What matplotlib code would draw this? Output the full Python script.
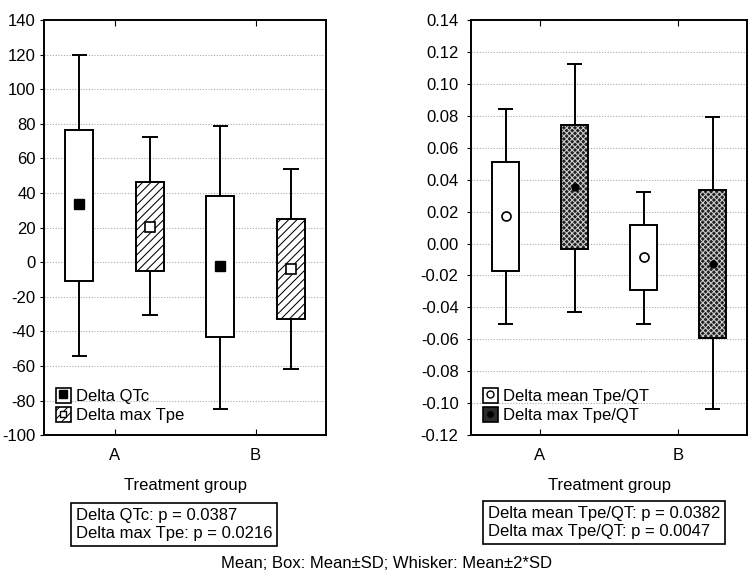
import matplotlib
matplotlib.use("Agg")
import matplotlib.pyplot as plt
import numpy as np
from matplotlib.patches import Patch
from matplotlib.lines import Line2D

plt.rcParams['font.family'] = ['Liberation Sans', 'DejaVu Sans']
plt.rcParams['axes.unicode_minus'] = False
plt.rcParams['hatch.linewidth'] = 0.75

groups = ["A", "B"]

# left panel: QTc and max Tpe (mean, mean-SD, mean+SD, mean-2SD, mean+2SD)
qtc_mean = [33.5, -2.5]
qtc_box_lo = [-10.8, -43.5]
qtc_box_hi = [76.6, 38.0]
qtc_wh_lo = [-54.2, -84.8]
qtc_wh_hi = [120.0, 79.0]

tpe_mean = [20.6, -3.7]
tpe_box_lo = [-5.0, -32.8]
tpe_box_hi = [46.4, 25.0]
tpe_wh_lo = [-30.6, -61.6]
tpe_wh_hi = [72.2, 54.0]

# right panel: mean Tpe/QT and max Tpe/QT
mtq_mean = [0.0173, -0.0084]
mtq_box_lo = [-0.0169, -0.0293]
mtq_box_hi = [0.0508, 0.0119]
mtq_wh_lo = [-0.0504, -0.0504]
mtq_wh_hi = [0.0844, 0.0322]

xtq_mean = [0.0355, -0.0125]
xtq_box_lo = [-0.0036, -0.0589]
xtq_box_hi = [0.0740, 0.0334]
xtq_wh_lo = [-0.0426, -0.1039]
xtq_wh_hi = [0.1124, 0.0790]


def draw_box(ax, x, lo, hi, wlo, whi, style):
    x = np.asarray(x)
    lo, hi = np.asarray(lo), np.asarray(hi)
    w = 0.2
    if style == 'plain':
        ax.bar(x, hi - lo, bottom=lo, width=w, color='white', edgecolor='black', lw=1.4, zorder=3)
    elif style == 'hatch':
        ax.bar(x, hi - lo, bottom=lo, width=w, color='white', edgecolor='black', lw=1.4,
               hatch='////', zorder=3)
    else:
        # dark fill with fine light dots
        ax.bar(x, hi - lo, bottom=lo, width=w, color='#222222', edgecolor='#cfcfcf', lw=0,
               hatch='xxxxxx', zorder=3)
        ax.bar(x, hi - lo, bottom=lo, width=w, fill=False, edgecolor='black', lw=1.4, zorder=4)
    ax.vlines(x, hi, whi, color='black', lw=1.4, zorder=2)
    ax.vlines(x, wlo, lo, color='black', lw=1.4, zorder=2)
    ax.hlines(whi, x - 0.055, x + 0.055, color='black', lw=1.4, zorder=2)
    ax.hlines(wlo, x - 0.055, x + 0.055, color='black', lw=1.4, zorder=2)


def setup_axes(ax):
    ax.set_xlim(-0.5, 1.5)
    ax.set_xticks(range(len(groups)))
    ax.set_xticklabels(groups, fontsize=12)
    ax.tick_params(axis='x', direction='in', top=True, length=4, pad=9)
    ax.tick_params(axis='y', direction='out', length=3, labelsize=12, pad=3)
    ax.grid(axis='y', linestyle=(0, (1, 1.5)), color='#aaaaaa', lw=0.8, zorder=0)
    for s in ax.spines.values():
        s.set_linewidth(1.4)
    ax.set_xlabel("Treatment group", fontsize=12, labelpad=11)


fig = plt.figure(figsize=(7.5, 5.74), dpi=100)
ax1 = fig.add_axes([0.0587, 0.242, 0.376, 0.723])
ax2 = fig.add_axes([0.628, 0.242, 0.368, 0.723])

xpos = np.arange(len(groups))

# left panel
setup_axes(ax1)
ax1.set_ylim(-100, 140)
ax1.set_yticks(np.arange(-100, 141, 20))
draw_box(ax1, xpos - 0.25, qtc_box_lo, qtc_box_hi, qtc_wh_lo, qtc_wh_hi, 'plain')
draw_box(ax1, xpos + 0.25, tpe_box_lo, tpe_box_hi, tpe_wh_lo, tpe_wh_hi, 'hatch')
ax1.plot(xpos - 0.25, qtc_mean, 's', color='black', ms=7, zorder=5)
ax1.plot(xpos + 0.25, tpe_mean, 's', mfc='white', mec='black', mew=1.2, ms=6.5, zorder=5)

h1 = (Patch(fc='white', ec='black', lw=1.2), Line2D([], [], marker='s', color='black', ls='', ms=6))
h2 = (Patch(fc='white', ec='black', lw=1.2, hatch='////'),
      Line2D([], [], marker='s', mfc='white', mec='black', ls='', ms=5))
ax1.legend([h1, h2], ["Delta QTc", "Delta max Tpe"], loc='lower left', frameon=False,
           fontsize=12, handlelength=0.9, handleheight=1.0, handletextpad=0.3,
           labelspacing=0.2, borderaxespad=0.3)

# right panel
setup_axes(ax2)
ax2.set_ylim(-0.12, 0.14)
ax2.set_yticks(np.arange(-0.12, 0.1401, 0.02))
ax2.yaxis.set_major_formatter(matplotlib.ticker.FormatStrFormatter('%.2f'))
ax2.tick_params(axis='y', pad=6)
draw_box(ax2, xpos - 0.25, mtq_box_lo, mtq_box_hi, mtq_wh_lo, mtq_wh_hi, 'plain')
draw_box(ax2, xpos + 0.25, xtq_box_lo, xtq_box_hi, xtq_wh_lo, xtq_wh_hi, 'dense')
ax2.plot(xpos - 0.25, mtq_mean, 'o', mfc='white', mec='black', mew=1.2, ms=6.5, zorder=5)
ax2.plot(xpos + 0.25, xtq_mean, 'o', color='black', ms=5, zorder=5)

h3 = (Patch(fc='white', ec='black', lw=1.2),
      Line2D([], [], marker='o', mfc='white', mec='black', ls='', ms=5))
h4 = (Patch(fc='#2a2a2a', ec='black', lw=1.2), Line2D([], [], marker='o', color='black', ls='', ms=4))
ax2.legend([h3, h4], ["Delta mean Tpe/QT", "Delta max Tpe/QT"], loc='lower left', frameon=False,
           fontsize=12, handlelength=0.9, handleheight=1.0, handletextpad=0.3,
           labelspacing=0.2, borderaxespad=0.3)

box = dict(boxstyle='square,pad=0.3', fc='white', ec='black', lw=1.2)
fig.text(0.232, 0.086, "Delta QTc: p = 0.0387\nDelta max Tpe: p = 0.0216", ha='center', va='center',
         multialignment='left', fontsize=12, bbox=box, linespacing=1.3)
fig.text(0.805, 0.0897, "Delta mean Tpe/QT: p = 0.0382\nDelta max Tpe/QT: p = 0.0047", ha='center',
         va='center', multialignment='left', fontsize=12, bbox=box, linespacing=1.3)
fig.text(0.515, 0.019, "Mean; Box: Mean±SD; Whisker: Mean±2*SD", ha='center', va='center', fontsize=12)

fig.savefig("out.png", dpi=100)
